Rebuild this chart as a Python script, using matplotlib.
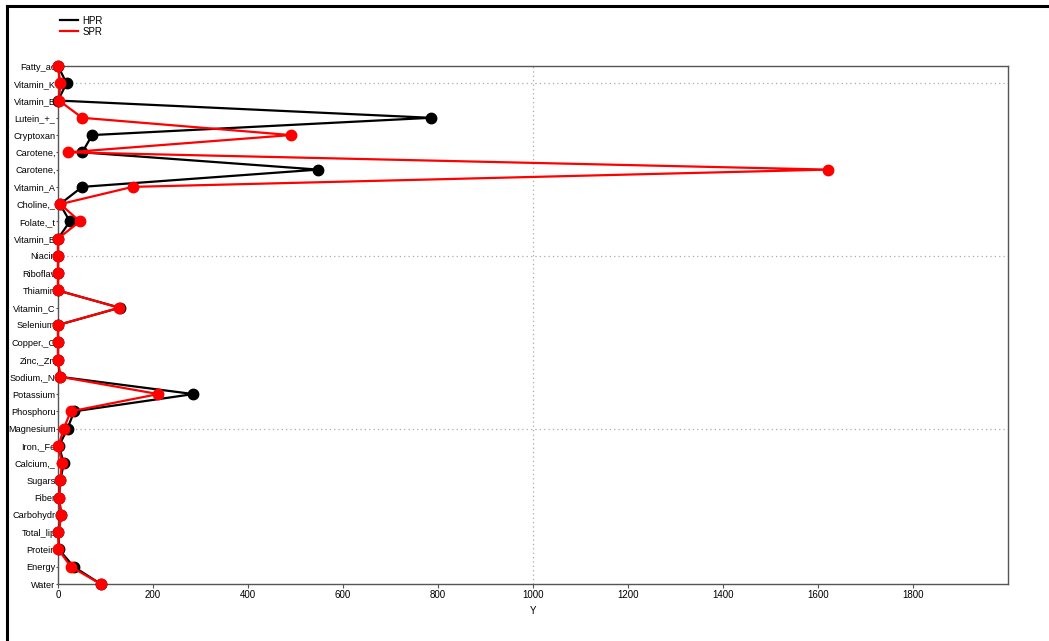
import matplotlib
matplotlib.use("Agg")
import matplotlib.pyplot as plt
from matplotlib.lines import Line2D

categories = ["Water", "Energy", "Protein", "Total_lip", "Carbohydr", "Fiber", "Sugars",
              "Calcium,_", "Iron,_Fe", "Magnesium", "Phosphoru", "Potassium", "Sodium,_N",
              "Zinc,_Zn", "Copper,_C", "Selenium", "Vitamin_C", "Thiamin", "Riboflav",
              "Niacin", "Vitamin_B", "Folate,_t", "Choline,_", "Vitamin_A", "Carotene,",
              "Carotene,", "Cryptoxan", "Lutein_+_", "Vitamin_E", "Vitamin_K", "Fatty_ac"]

hpr = [90, 33, 2, 1, 7, 2, 5, 12, 2, 20, 34, 285, 4, 0, 0, 0, 130, 0, 0, 0, 0,
       25, 4, 51, 548, 51, 72, 785, 0, 18, 0]
spr = [90, 27, 1, 1, 7, 2, 5, 8, 1, 12, 27, 211, 5, 0, 0, 0, 129, 0, 0, 0, 0,
       46, 5, 157, 1622, 20, 490, 51, 2, 5, 0]

xticks = [0, 200, 400, 600, 800, 1000, 1200, 1400, 1600, 1800]

plt.rcParams['font.family'] = ['Liberation Sans', 'DejaVu Sans']

fig = plt.figure(figsize=(10.49, 6.41), dpi=100)
ax = fig.add_axes([58/1049, 1-584/641, (1008-58)/1049, (584-66)/641])

pos = list(range(1, len(categories) + 1))

for g in [10, 20, 30]:
    ax.axhline(g, color='#aaaaaa', lw=0.9, ls=(0, (1, 2.5)), zorder=0)
ax.axvline(1000, color='#aaaaaa', lw=0.9, ls=(0, (1, 2.5)), zorder=0)

ax.plot(hpr, pos, color='black', lw=1.6, marker='o', ms=7.5, label='HPR', zorder=3, clip_on=False)
ax.plot(spr, pos, color='#ff0000', lw=1.6, marker='o', ms=7.5, label='SPR', zorder=4, clip_on=False)

ax.set_xlim(0, 2000)
ax.set_ylim(1, 31)
ax.set_xticks(xticks)
ax.set_yticks(pos)
ax.set_yticklabels(categories)
ax.tick_params(axis='x', labelsize=7, length=3, width=0.8, color='#555555', pad=1.5)
ax.tick_params(axis='y', labelsize=6.6, length=1.5, width=0.8, color='#555555', pad=0.3)
for s in ax.spines.values():
    s.set_color('#555555')
    s.set_linewidth(1.0)
ax.set_xlabel('Y', fontsize=7, labelpad=4)

handles = [Line2D([0], [0], color='black', lw=1.6), Line2D([0], [0], color='#ff0000', lw=1.6)]
fig.legend(handles, ['HPR', 'SPR'], loc='upper left', bbox_to_anchor=(53/1049, 1-9/641),
           frameon=False, fontsize=7, handlelength=1.9, handletextpad=0.4,
           labelspacing=0.1, borderpad=0.2)

fig.add_artist(Line2D([7/1049, 7/1049], [0, 1-6/641], color='black', lw=2.2,
                      transform=fig.transFigure))
fig.add_artist(Line2D([7/1049, 1], [1-6/641, 1-6/641], color='black', lw=2.2,
                      transform=fig.transFigure))

fig.savefig('out.png', dpi=100)
